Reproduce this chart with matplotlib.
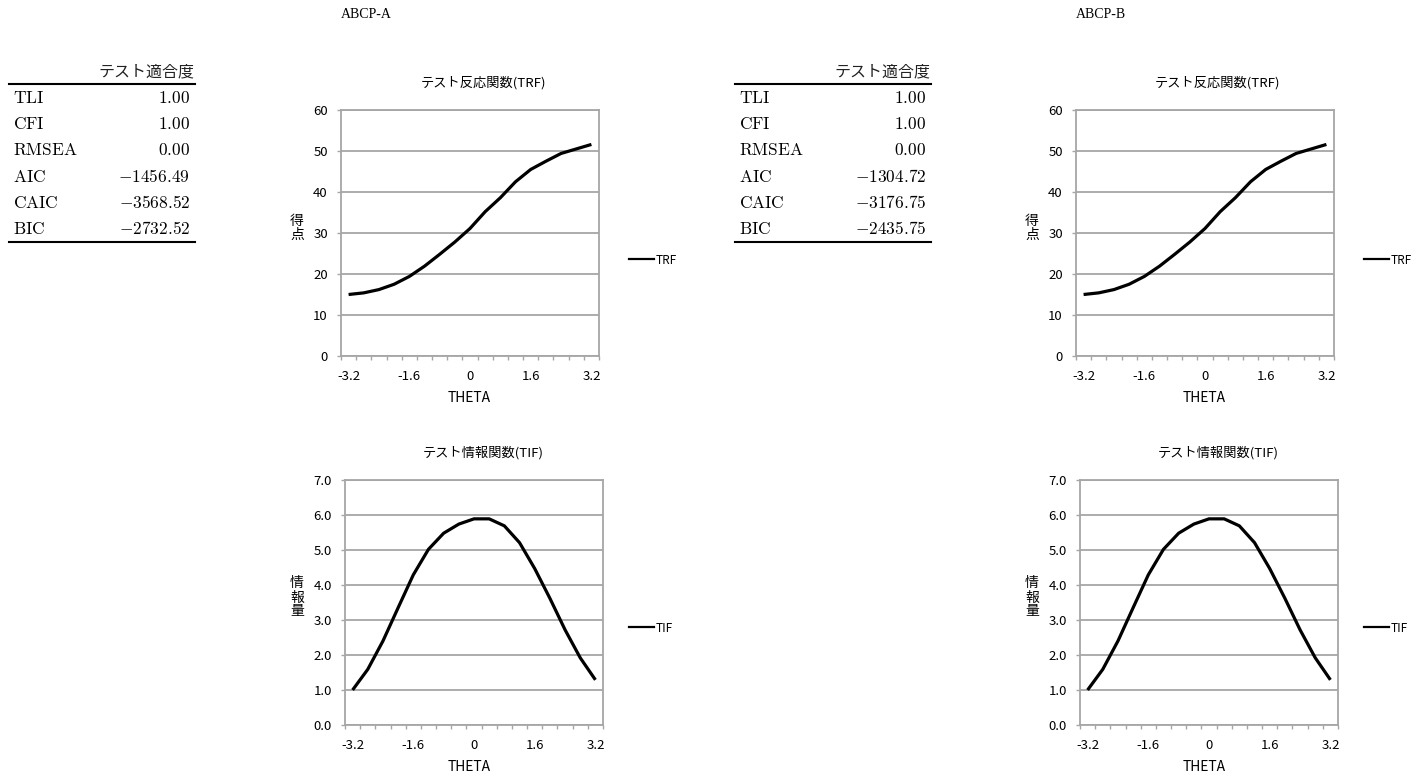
import numpy as np
import matplotlib
matplotlib.use("Agg")
import matplotlib.pyplot as plt
from matplotlib.lines import Line2D

plt.rcParams["font.family"] = ["Noto Sans CJK JP", "DejaVu Sans"]
plt.rcParams["mathtext.fontset"] = "cm"

W, H = 1415, 776
GRAU = "#a6a6a6"

# ----------------------------------------------------------------------
# Daten
# ----------------------------------------------------------------------
theta = [-3.2, -2.8, -2.4, -2.0, -1.6, -1.2, -0.8, -0.4, 0.0,
         0.4, 0.8, 1.2, 1.6, 2.0, 2.4, 2.8, 3.2]

trf_a = [15.0, 15.4, 16.2, 17.5, 19.4, 21.9, 24.8, 27.8, 31.1,
         35.2, 38.6, 42.5, 45.5, 47.5, 49.4, 50.5, 51.6]
tif_a = [1.00, 1.59, 2.40, 3.35, 4.29, 5.02, 5.48, 5.74, 5.89,
         5.89, 5.69, 5.21, 4.47, 3.62, 2.72, 1.92, 1.29]

trf_b = [15.0, 15.4, 16.2, 17.5, 19.4, 21.9, 24.8, 27.8, 31.1,
         35.2, 38.6, 42.5, 45.5, 47.5, 49.4, 50.5, 51.6]
tif_b = [1.00, 1.59, 2.40, 3.35, 4.29, 5.02, 5.48, 5.74, 5.89,
         5.89, 5.69, 5.21, 4.47, 3.62, 2.72, 1.92, 1.29]

fit_names = ["TLI", "CFI", "RMSEA", "AIC", "CAIC", "BIC"]
fit_a = [1.00, 1.00, 0.00, -1456.49, -3568.52, -2732.52]
fit_b = [1.00, 1.00, 0.00, -1304.72, -3176.75, -2435.75]

trf_ticks = [0, 10, 20, 30, 40, 50, 60]
tif_ticks = [0.0, 1.0, 2.0, 3.0, 4.0, 5.0, 6.0, 7.0]


def px(x0, y0, x1, y1):
    """Pixelbox (oben links / unten rechts) -> Figurkoordinaten."""
    return [x0 / W, 1 - y1 / H, (x1 - x0) / W, (y1 - y0) / H]


fig = plt.figure(figsize=(W / 100, H / 100), dpi=100)

# Hintergrund-Achse in Pixelkoordinaten für Tabellen und Beschriftungen
bg = fig.add_axes([0, 0, 1, 1])
bg.set_xlim(0, W)
bg.set_ylim(H, 0)
bg.axis("off")


def fit_table(x0, x1, names, values):
    bg.text(x1 - 1, 72, "テスト適合度", ha="right", va="center", fontsize=11.5,
            color="#222222")
    bg.plot([x0, x1], [84, 84], color="black", lw=1.5)
    bg.plot([x0, x1], [242, 242], color="black", lw=1.5)
    for i, (n, v) in enumerate(zip(names, values)):
        y = 98 + i * 26.2
        bg.text(x0 + 4, y, r"$\mathrm{%s}$" % n, ha="left", va="center",
                fontsize=12.5)
        bg.text(x1 - 5, y, "$%.2f$" % v, ha="right", va="center",
                fontsize=12.5)


def panel(box, werte, ylim, yticks, yfmt, titel, ylabel, name, dx, leg_y):
    ax = fig.add_axes(px(*box))
    pos = np.arange(len(theta))
    ax.plot(pos, werte, color="black", lw=2.3, solid_capstyle="butt")
    ax.set_xlim(-0.5, len(theta) - 0.5)
    ax.set_ylim(*ylim)
    ax.set_yticks(yticks)
    ax.set_yticklabels([yfmt.format(v) for v in yticks])
    # Kategorie-Achse wie in Excel: Striche zwischen den Kategorien
    ax.set_xticks(np.arange(len(theta) + 1) - 0.5)
    ax.set_xticklabels([])
    ax.set_xticks(pos[::4], minor=True)
    ax.set_xticklabels([f"{theta[i]:g}" for i in pos[::4]], minor=True)
    ax.tick_params(axis="x", which="minor", length=0, pad=10, labelsize=9.5)
    ax.tick_params(axis="x", which="major", length=3, width=1, color=GRAU)
    ax.tick_params(axis="y", length=3, width=1, color=GRAU, pad=6.5,
                   labelsize=9.5)
    ax.yaxis.grid(True, color=GRAU, lw=1.3)
    ax.set_axisbelow(True)
    for s in ax.spines.values():
        s.set_color(GRAU)
        s.set_linewidth(1.3)

    # Legende rechts neben dem Diagramm
    handle = Line2D([], [], color="black", lw=1.6)
    ax.legend([handle], [name], loc="center left", frameon=False,
              bbox_to_anchor=((629 + dx - box[0]) / (box[2] - box[0]),
                              (box[3] - leg_y) / (box[3] - box[1])),
              fontsize=8.5, handlelength=2.1, handletextpad=0.15,
              borderpad=0, borderaxespad=0)

    bg.text(483 + dx, box[1] - 27, titel, ha="center", va="center",
            fontsize=9.5)
    bg.text(469 + dx, box[3] + 42, "THETA", ha="center", va="center",
            fontsize=10)
    bg.text(297 + dx, (box[1] + box[3]) / 2 - 5, "\n".join(ylabel),
            ha="center", va="center", fontsize=10, linespacing=1.0)
    return ax


for dx, titel, trf, tif, fit in [(0, "ABCP-A", trf_a, tif_a, fit_a),
                                 (735, "ABCP-B", trf_b, tif_b, fit_b)]:
    bg.text(366 + dx, 14, titel, ha="center", va="center", fontsize=10,
            family="Liberation Serif")
    fit_table(9 + 726 * (dx > 0), 195 + 736 * (dx > 0), fit_names, fit)
    panel((341 + dx, 110, 599 + dx, 356), trf, (0, 60), trf_ticks, "{:g}",
          "テスト反応関数(TRF)", "得点", "TRF", dx, 260)
    panel((345 + dx, 480, 603 + dx, 725), tif, (0, 7), tif_ticks, "{:.1f}",
          "テスト情報関数(TIF)", "情報量", "TIF", dx, 628)

fig.savefig("out.png", dpi=100)
